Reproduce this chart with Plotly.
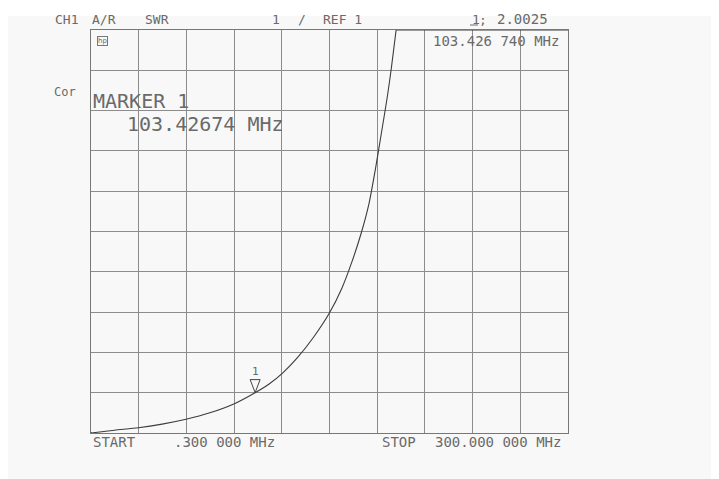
import plotly.graph_objects as go

# ---- data ----
# rising part of the SWR trace
freq_mhz = [0.3, 15.0, 30.0, 45.0, 60.0, 75.0, 90.0, 103.4, 112.0, 121.0, 130.0,
            140.0, 150.0, 158.0, 164.0, 170.0, 175.0, 179.0, 183.0, 186.5, 189.0,
            192.0]
swr = [1.00, 1.07, 1.13, 1.22, 1.34, 1.50, 1.72, 2.00, 2.21, 2.50, 2.87,
       3.37, 3.97, 4.60, 5.22, 5.95, 6.70, 7.55, 8.50, 9.35, 10.05,
       11.00]
# part of the trace held at the top of the display
freq_top_mhz = [192.0, 250.0, 300.0]
swr_top = [11.0, 11.0, 11.0]

start_mhz = 0.3
stop_mhz = 300.0
ref_value = 1.0
scale_per_div = 1.0
marker_freq = 103.42674
marker_swr = 2.0025

header_left = [("CH1", 53), ("A/R", 90), ("SWR", 143)]
header_mid = [("1", 270), ("/", 296), ("REF 1", 321)]
footer = [("START", 91), (".300 000 MHz", 172), ("STOP", 380), ("300.000 000 MHz", 433)]

# reference-picture pixel geometry; the page puts the figure at (8, 8)
OFF = 8
W, H = 719, 479
L, R, T, B = 91, 568, 30, 433
FONT = "DejaVu Sans Mono"
TXT = "#6a6a6a"

def px(x):
    return (x - L) / (R - L)

def py(y):
    return (B - y) / (B - T)

fig = go.Figure()
fig.add_trace(go.Scatter(
    x=freq_mhz, y=swr, mode="lines",
    line=dict(color="#3c3c3c", width=1.1, shape="spline", smoothing=0.7),
    hoverinfo="skip", showlegend=False))
fig.add_trace(go.Scatter(
    x=freq_top_mhz, y=swr_top, mode="lines",
    line=dict(color="#3c3c3c", width=1.2),
    hoverinfo="skip", showlegend=False))

ann = []
def text(s, x, y, size=13, anchor="left"):
    ann.append(dict(text=s, xref="paper", yref="paper", x=px(x), y=py(y),
                    xanchor=anchor, yanchor="middle", showarrow=False,
                    font=dict(family=FONT, size=size, color=TXT)))

for s, x in header_left + header_mid:
    text(s, x, 19, 13)
text("1", 470, 19, 13)
text(";", 477, 19, 13)
text("2.0025", 495, 19, 14)
text("103.426 740 MHz", 431, 41, 14)
text("Cor", 52, 92, 12)
text("MARKER 1", 91, 101, 20)
text("103.42674 MHz", 125, 124, 20)
for s, x in footer:
    text(s, x, 442, 14)

# hp logo
ann.append(dict(text="hp", xref="paper", yref="paper", x=px(97), y=py(41),
                xanchor="left", yanchor="middle", showarrow=False,
                font=dict(family="DejaVu Sans", size=7, color=TXT),
                bordercolor="#777", borderwidth=1, borderpad=0))

# marker label
ann.append(dict(text="1", x=marker_freq, y=marker_swr, xref="x", yref="y",
                showarrow=False, yshift=21, font=dict(family=FONT, size=11, color=TXT)))

shapes = [
    # white strip at the top of the scan
    dict(type="rect", xref="paper", yref="paper", x0=px(0), x1=px(W), y0=py(16), y1=py(-10),
         fillcolor="white", line=dict(width=0), layer="below"),
    # marker triangle (tip on the trace)
    dict(type="path", xref="x", yref="y", xsizemode="pixel", ysizemode="pixel",
         xanchor=marker_freq, yanchor=marker_swr,
         path="M0,0 L-5,13 L5,13 Z", line=dict(color="#444", width=1)),
    # reference position marker
    dict(type="path", xref="x", yref="y", xsizemode="pixel", ysizemode="pixel",
         xanchor=start_mhz, yanchor=ref_value,
         path="M1,0 L-6,3 L-6,-3 Z", line=dict(color="#555", width=1)),
    # underline under marker number
    dict(type="line", xref="paper", yref="paper", x0=px(470), x1=px(478), y0=py(25), y1=py(25),
         line=dict(color=TXT, width=1)),
]

fig.update_layout(
    width=W - OFF, height=H - OFF,
    margin=dict(l=L - OFF, r=W - R, t=T - OFF, b=H - B, pad=0),
    paper_bgcolor="#f8f8f8", plot_bgcolor="#f8f8f8",
    annotations=ann, shapes=shapes, showlegend=False,
    xaxis=dict(range=[start_mhz, stop_mhz], tick0=start_mhz, dtick=(stop_mhz - start_mhz) / 10,
               showgrid=True, gridcolor="#8c8c8c", gridwidth=1, zeroline=False,
               showticklabels=False, ticks="", showline=True, mirror=True,
               linecolor="#777", linewidth=1),
    yaxis=dict(range=[ref_value, ref_value + 10 * scale_per_div], tick0=ref_value, dtick=scale_per_div,
               showgrid=True, gridcolor="#8c8c8c", gridwidth=1, zeroline=False,
               showticklabels=False, ticks="", showline=True, mirror=True,
               linecolor="#777", linewidth=1),
)

fig.write_html("out.html")
